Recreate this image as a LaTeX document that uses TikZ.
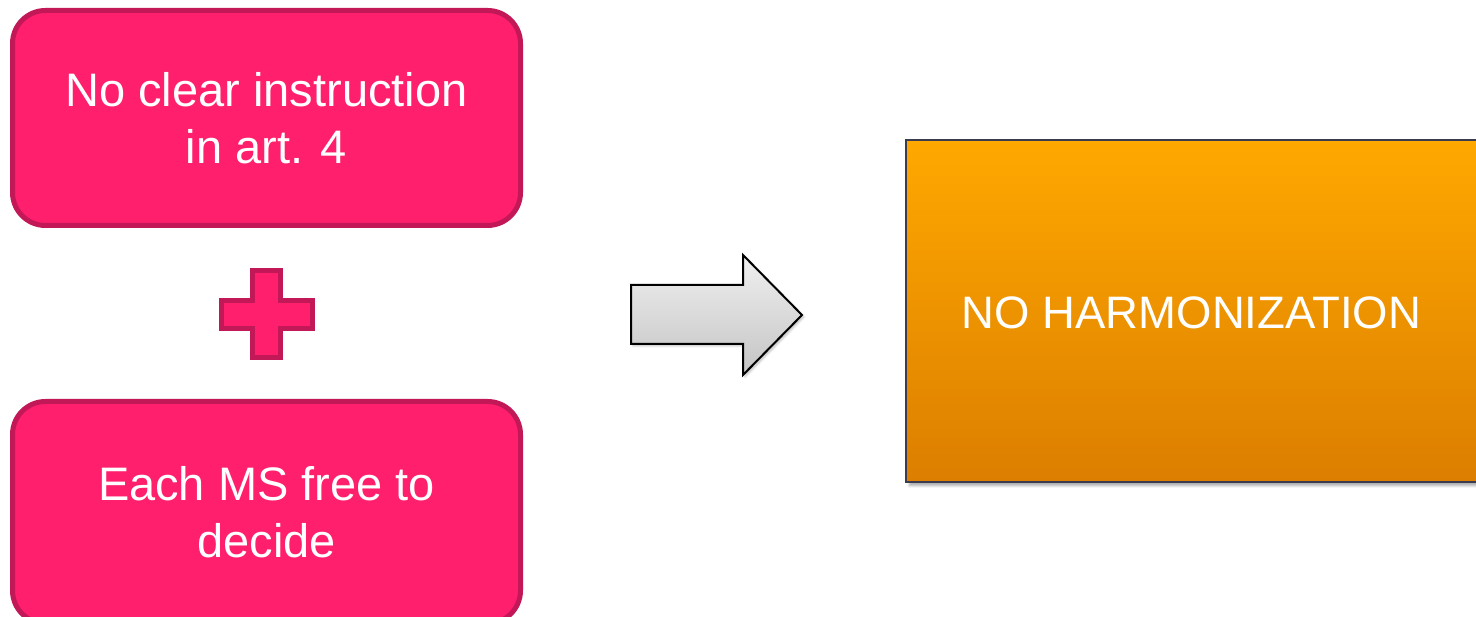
\documentclass[tikz,border=0pt]{standalone}
\usepackage{fontspec}
\setmainfont{Liberation Sans}
\usetikzlibrary{shadows,shadows.blur}
\definecolor{pinkfill}{RGB}{255,31,108}
\definecolor{pinkline}{RGB}{194,24,88}
\definecolor{orgtop}{RGB}{255,168,0}
\definecolor{orgbot}{RGB}{220,126,0}
\definecolor{boxline}{RGB}{60,60,80}
\definecolor{arrtop}{RGB}{240,240,240}
\definecolor{arrbot}{RGB}{196,196,196}
\tikzset{
  pinkbox/.style={draw=pinkline, fill=pinkfill, line width=5pt, rounded corners=33pt,
    minimum width=508pt, align=center, text=white,
    font=\fontsize{47}{57}\selectfont},
  plusshape/.style={draw=pinkline, fill=pinkfill, line width=5pt},
  grayarrow/.style={draw=black, line width=2pt, top color=arrtop, bottom color=arrbot,
    blur shadow={shadow xshift=2pt, shadow yshift=-2pt, shadow blur steps=4, shadow opacity=25}},
  resultbox/.style={draw=boxline, line width=2pt, top color=orgtop, bottom color=orgbot,
    minimum width=571pt, minimum height=342pt, text=white,
    font=\fontsize{45.5}{55}\selectfont,
    blur shadow={shadow xshift=3pt, shadow yshift=-4pt, shadow blur steps=6, shadow opacity=30}}
}
\begin{document}
\begin{tikzpicture}[x=1pt,y=1pt]
\useasboundingbox (0,0) rectangle (1476,617);
\node[pinkbox, minimum height=215pt] (top) at (266.5,499) {No clear instruction\\in art. 4};
\node[pinkbox, minimum height=222pt] (bottom) at (266.5,104.5) {Each MS free to\\decide};
\draw[plusshape] (252.5,346.5) -- (280.5,346.5) -- (280.5,316.5) -- (312.5,316.5)
  -- (312.5,288.5) -- (280.5,288.5) -- (280.5,259.5) -- (252.5,259.5)
  -- (252.5,288.5) -- (221.5,288.5) -- (221.5,316.5) -- (252.5,316.5) -- cycle;
\draw[grayarrow] (631,332) -- (743,332) -- (743,362) -- (802,302) -- (743,242)
  -- (743,273) -- (631,273) -- cycle;
\node[resultbox] (result) at (1191.5,306) {};
\node[text=white, font=\fontsize{45.5}{55}\selectfont] (resulttext) at (1191.5,304) {NO HARMONIZATION};
\end{tikzpicture}
\end{document}
